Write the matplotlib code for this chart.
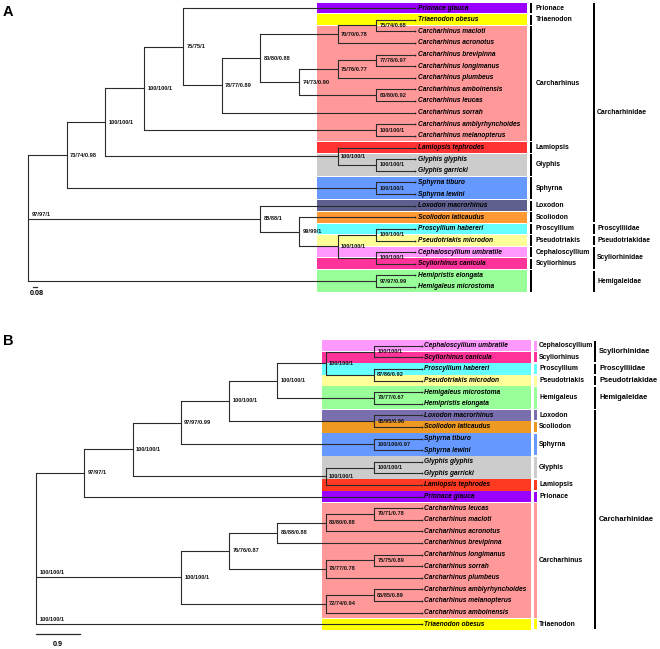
import matplotlib
matplotlib.use("Agg")
import matplotlib.pyplot as plt
from matplotlib.patches import Rectangle

plt.rcParams['font.family'] = ['Liberation Sans', 'DejaVu Sans']

# ---------------- DATA ----------------
# Panel A topology: (support, [children]) ; leaves are taxon names
tree_A = ("", [
    ("73/74/0.98", [
        ("100/100/1", [
            ("100/100/1", [
                ("75/75/1", [
                    "Prionace glauca",
                    ("78/77/0.89", [
                        ("80/80/0.88", [
                            ("70/70/0.78", [
                                ("75/74/0.68", ["Triaenodon obesus", "Carcharhinus macloti"]),
                                "Carcharhinus acronotus"]),
                            ("74/73/0.90", [
                                ("75/76/0.77", [
                                    ("77/78/0.97", ["Carcharhinus brevipinna", "Carcharhinus longimanus"]),
                                    "Carcharhinus plumbeus"]),
                                ("80/80/0.92", ["Carcharhinus amboinensis", "Carcharhinus leucas"])]),
                        ]),
                        "Carcharhinus sorrah"]),
                ]),
                ("100/100/1", ["Carcharhinus amblyrhynchoides", "Carcharhinus melanopterus"]),
            ]),
            ("100/100/1", ["Lamiopsis tephrodes",
                           ("100/100/1", ["Glyphis glyphis", "Glyphis garricki"])]),
        ]),
        ("100/100/1", ["Sphyrna tiburo", "Sphyrna lewini"]),
    ]),
    ("88/88/1", [
        "Loxodon macrorhinus",
        ("99/99/1", [
            "Scoliodon laticaudus",
            ("100/100/1", [
                ("100/100/1", ["Proscyllium habereri", "Pseudotriakis microdon"]),
                ("100/100/1", ["Cephaloscyllium umbratile", "Scyliorhinus canicula"])]),
        ]),
    ]),
    ("97/97/0.99", ["Hemipristis elongata", "Hemigaleus microstoma"]),
])
root_labels_A = {1: "97/97/1"}

genus_names_A = ["Prionace", "Triaenodon", "Carcharhinus", "Lamiopsis", "Glyphis", "Sphyrna",
                 "Loxodon", "Scoliodon", "Proscyllium", "Pseudotriakis", "Cephaloscyllium",
                 "Scyliorhinus", ""]
genus_sizes_A = [1, 1, 10, 1, 2, 2, 1, 1, 1, 1, 1, 1, 2]
genus_colors_A = ["#9900ff", "#ffff00", "#ff9999", "#ff3333", "#cccccc", "#6699ff",
                  "#5e5e8f", "#ff9933", "#66ffff", "#ffff99", "#ff99ff", "#ff3399", "#99ff99"]
family_names_A = ["Carcharhinidae", "Proscylliidae", "Pseudotriakidae", "Scyliorhinidae", "Hemigaleidae"]
family_sizes_A = [19, 1, 1, 2, 2]
scale_text_A = "0.08"

# Panel B topology
tree_B = ("", [
    ("97/97/1", [
        ("100/100/1", [
            ("97/97/0.99", [
                ("100/100/1", [
                    ("100/100/1", [
                        ("100/100/1", [
                            ("100/100/1", ["Cephaloscyllium umbratile", "Scyliorhinus canicula"]),
                            ("87/86/0.92", ["Proscyllium habereri", "Pseudotriakis microdon"])]),
                        ("78/77/0.67", ["Hemigaleus microstoma", "Hemipristis elongata"]),
                    ]),
                    ("95/95/0.96", ["Loxodon macrorhinus", "Scoliodon laticaudus"]),
                ]),
                ("100/100/0.97", ["Sphyrna tiburo", "Sphyrna lewini"]),
            ]),
            ("100/100/1", [("100/100/1", ["Glyphis glyphis", "Glyphis garricki"]),
                           "Lamiopsis tephrodes"]),
        ]),
        "Prionace glauca",
    ]),
    ("100/100/1", [
        ("76/76/0.87", [
            ("86/88/0.88", [
                ("80/80/0.88", [
                    ("70/71/0.78", ["Carcharhinus leucas", "Carcharhinus macloti"]),
                    "Carcharhinus acronotus"]),
                "Carcharhinus brevipinna"]),
            ("78/77/0.78", [
                ("75/75/0.89", ["Carcharhinus longimanus", "Carcharhinus sorrah"]),
                "Carcharhinus plumbeus"]),
        ]),
        ("72/74/0.94", [
            ("85/85/0.89", ["Carcharhinus amblyrhynchoides", "Carcharhinus melanopterus"]),
            "Carcharhinus amboinensis"]),
    ]),
    "Triaenodon obesus",
])
root_labels_B = {1: "100/100/1", 2: "100/100/1"}

genus_names_B = ["Cephaloscyllium", "Scyliorhinus", "Proscyllium", "Pseudotriakis", "Hemigaleus",
                 "Loxodon", "Scoliodon", "Sphyrna", "Glyphis", "Lamiopsis", "Prionace",
                 "Carcharhinus", "Triaenodon"]
genus_sizes_B = [1, 1, 1, 1, 2, 1, 1, 2, 2, 1, 1, 10, 1]
genus_colors_B = ["#ff99ff", "#ff3399", "#66ffff", "#ffff99", "#99ff99", "#7a6fae",
                  "#ee9a22", "#6699ff", "#cccccc", "#ff3a22", "#9900ff", "#ff9999", "#ffff00"]
family_names_B = ["Scyliorhinidae", "Proscylliidae", "Pseudotriakidae", "Hemigaleidae", "Carcharhinidae"]
family_sizes_B = [2, 1, 1, 2, 19]
scale_text_B = "0.9"

# ---------------- DRAWING ----------------
W, H = 660, 649
fig = plt.figure(figsize=(W / 100, H / 100), dpi=100)
ax = fig.add_axes([0, 0, 1, 1])
ax.set_xlim(0, W)
ax.set_ylim(H, 0)
ax.axis('off')

LC = '#2b2b2b'
LW = 0.8
SUP_FS = 4.1
LEAF_FS = 4.8


def height(node):
    if isinstance(node, str):
        return 0
    return 1 + max(height(c) for c in node[1])


def draw(node, cfg, counter, parent_x=None, is_root=False, root_labels=None):
    if isinstance(node, str):
        y = cfg['y0'] + counter[0] * cfg['dy']
        counter[0] += 1
        x = cfg['leaf_x']
        if parent_x is not None:
            ax.plot([parent_x, x], [y, y], color=LC, lw=LW, solid_capstyle='butt', zorder=3)
        ax.plot([x], [y], marker='o', ms=1.3, color=LC, mew=0, zorder=3)
        ax.text(x + 2.5, y, node, fontsize=LEAF_FS, fontweight='bold', fontstyle='italic',
                va='center', ha='left', zorder=4)
        return x, y
    x = cfg['leaf_x'] - height(node) * cfg['step']
    child_pos = []
    for c in node[1]:
        child_pos.append(draw(c, cfg, counter, parent_x=x))
    ys = [p[1] for p in child_pos]
    y = (ys[0] + ys[-1]) / 2
    ax.plot([x, x], [ys[0], ys[-1]], color=LC, lw=LW, solid_capstyle='projecting', zorder=3)
    if parent_x is not None:
        ax.plot([parent_x, x], [y, y], color=LC, lw=LW, solid_capstyle='butt', zorder=3)
    if not is_root and node[0]:
        ax.text(x + 3.5, y, node[0], fontsize=SUP_FS, fontweight='bold', va='center',
                ha='left', zorder=5, color='#111111')
    if is_root and root_labels:
        for idx, txt in root_labels.items():
            ax.text(x + 3.5, ys[idx] - 2.2, txt, fontsize=SUP_FS, fontweight='bold',
                    va='bottom', ha='left', zorder=5, color='#111111')
    return x, y


def panel(tree, root_labels, gnames, gsizes, gcolors, fnames, fsizes, cfg):
    dy = cfg['dy']
    start = 0
    for name, n, col in zip(gnames, gsizes, gcolors):
        yt = cfg['y0'] + start * dy - dy / 2
        yb = cfg['y0'] + (start + n - 1) * dy + dy / 2
        g = cfg['gap'] / 2
        ax.add_patch(Rectangle((cfg['box'][0], yt + g), cfg['box'][1] - cfg['box'][0],
                               (yb - yt) - 2 * g, facecolor=col, edgecolor='none', zorder=1))
        bc = col if cfg['gbar_colored'] else 'black'
        ax.add_patch(Rectangle((cfg['gbar_x'], yt + 0.8), cfg['gbar_w'], (yb - yt) - 1.6,
                               facecolor=bc, edgecolor='none', zorder=2))
        if name:
            ax.text(cfg['glabel_x'], (yt + yb) / 2, name, fontsize=cfg['gfs'], fontweight='bold',
                    va='center', ha='left')
        start += n
    start = 0
    for name, n in zip(fnames, fsizes):
        yt = cfg['y0'] + start * dy - dy / 2
        yb = cfg['y0'] + (start + n - 1) * dy + dy / 2
        ax.add_patch(Rectangle((cfg['fbar_x'], yt + 1.0), cfg['fbar_w'], (yb - yt) - 2.0,
                               facecolor='black', edgecolor='none', zorder=2))
        ax.text(cfg['flabel_x'], (yt + yb) / 2, name, fontsize=cfg['ffs'], fontweight='bold',
                va='center', ha='left')
        start += n
    draw(tree, cfg, [0], is_root=True, root_labels=root_labels)


cfgA = dict(y0=8.0, dy=11.625, leaf_x=415.0, step=38.7, box=(317, 527), gap=1.0,
            gbar_x=529.5, gbar_w=2.3, gbar_colored=False, glabel_x=535.5, gfs=4.9,
            fbar_x=592.5, fbar_w=2.0, flabel_x=597, ffs=4.9)
cfgB = dict(y0=345.7, dy=11.6, leaf_x=422.0, step=48.25, box=(321.7, 531), gap=0.4,
            gbar_x=534.3, gbar_w=2.4, gbar_colored=True, glabel_x=539, gfs=4.9,
            fbar_x=594.0, fbar_w=2.3, flabel_x=599, ffs=5.4)

panel(tree_A, root_labels_A, genus_names_A, genus_sizes_A, genus_colors_A,
      family_names_A, family_sizes_A, cfgA)
panel(tree_B, root_labels_B, genus_names_B, genus_sizes_B, genus_colors_B,
      family_names_B, family_sizes_B, cfgB)

# scale bars
ax.plot([33.3, 36.7], [286.7, 286.7], color=LC, lw=0.9)
ax.text(37, 293.3, scale_text_A, fontsize=5.2, fontweight='bold', ha='center', va='center')
ax.plot([36, 80.3], [634, 634], color=LC, lw=0.9)
ax.text(58, 644, scale_text_B, fontsize=5.2, fontweight='bold', ha='center', va='center')

# panel letters
ax.text(3, 12.3, "A", fontsize=10.5, fontweight='bold', ha='left', va='center')
ax.text(3, 341.2, "B", fontsize=10.5, fontweight='bold', ha='left', va='center')

fig.savefig("out.png", dpi=100)
